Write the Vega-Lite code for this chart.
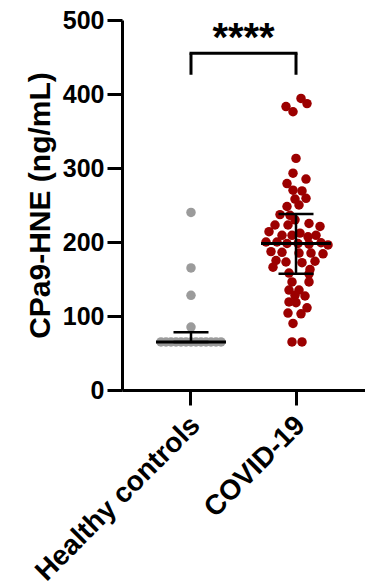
{
  "$schema": "https://vega.github.io/schema/vega-lite/v6.json",
  "width": 243,
  "height": 370,
  "autosize": "none",
  "padding": {"left": 122, "top": 20, "right": 0, "bottom": 196},
  "config": {
    "view": {"stroke": null},
    "font": "Liberation Sans",
    "axis": {
      "domainColor": "black", "domainWidth": 3, "tickColor": "black", "tickWidth": 3, "tickSize": 15,
      "labelColor": "black", "labelFont": "Liberation Sans", "labelFontWeight": "bold", "labelFontSize": 25,
      "titleColor": "black", "titleFont": "Liberation Sans", "titleFontWeight": "bold", "grid": false
    }
  },
  "datasets": {
    "points": [
      {"group": "Healthy controls", "value": 240, "jitter": 0},
      {"group": "Healthy controls", "value": 165, "jitter": 0},
      {"group": "Healthy controls", "value": 128, "jitter": 0},
      {"group": "Healthy controls", "value": 85, "jitter": 0},
      {"group": "Healthy controls", "value": 65, "jitter": -30},
      {"group": "Healthy controls", "value": 65, "jitter": -25},
      {"group": "Healthy controls", "value": 65, "jitter": -20},
      {"group": "Healthy controls", "value": 65, "jitter": -15},
      {"group": "Healthy controls", "value": 65, "jitter": -10},
      {"group": "Healthy controls", "value": 65, "jitter": -5},
      {"group": "Healthy controls", "value": 65, "jitter": 0},
      {"group": "Healthy controls", "value": 65, "jitter": 5},
      {"group": "Healthy controls", "value": 65, "jitter": 10},
      {"group": "Healthy controls", "value": 65, "jitter": 15},
      {"group": "Healthy controls", "value": 65, "jitter": 20},
      {"group": "Healthy controls", "value": 65, "jitter": 25},
      {"group": "Healthy controls", "value": 65, "jitter": 30},
      {"group": "COVID-19", "value": 394, "jitter": 5},
      {"group": "COVID-19", "value": 387, "jitter": 11},
      {"group": "COVID-19", "value": 383, "jitter": -10},
      {"group": "COVID-19", "value": 376, "jitter": -3},
      {"group": "COVID-19", "value": 313, "jitter": 0},
      {"group": "COVID-19", "value": 293, "jitter": -3},
      {"group": "COVID-19", "value": 285, "jitter": 10},
      {"group": "COVID-19", "value": 279, "jitter": -9},
      {"group": "COVID-19", "value": 270, "jitter": -3},
      {"group": "COVID-19", "value": 269, "jitter": 6},
      {"group": "COVID-19", "value": 259, "jitter": 10},
      {"group": "COVID-19", "value": 258, "jitter": -1},
      {"group": "COVID-19", "value": 250, "jitter": 3},
      {"group": "COVID-19", "value": 248, "jitter": -9},
      {"group": "COVID-19", "value": 237, "jitter": -16},
      {"group": "COVID-19", "value": 236, "jitter": -6},
      {"group": "COVID-19", "value": 230, "jitter": -1},
      {"group": "COVID-19", "value": 225, "jitter": 13},
      {"group": "COVID-19", "value": 223, "jitter": -8},
      {"group": "COVID-19", "value": 221, "jitter": 24},
      {"group": "COVID-19", "value": 223, "jitter": -21},
      {"group": "COVID-19", "value": 214, "jitter": -27},
      {"group": "COVID-19", "value": 212, "jitter": 4},
      {"group": "COVID-19", "value": 209, "jitter": -14},
      {"group": "COVID-19", "value": 209, "jitter": 20},
      {"group": "COVID-19", "value": 209, "jitter": -4},
      {"group": "COVID-19", "value": 207, "jitter": 12},
      {"group": "COVID-19", "value": 200, "jitter": -30},
      {"group": "COVID-19", "value": 200, "jitter": -19},
      {"group": "COVID-19", "value": 198, "jitter": -9},
      {"group": "COVID-19", "value": 198, "jitter": 2},
      {"group": "COVID-19", "value": 197, "jitter": 13},
      {"group": "COVID-19", "value": 199, "jitter": 25},
      {"group": "COVID-19", "value": 196, "jitter": 32},
      {"group": "COVID-19", "value": 187, "jitter": -25},
      {"group": "COVID-19", "value": 186, "jitter": -14},
      {"group": "COVID-19", "value": 185, "jitter": 3},
      {"group": "COVID-19", "value": 185, "jitter": 15},
      {"group": "COVID-19", "value": 184, "jitter": 27},
      {"group": "COVID-19", "value": 175, "jitter": -20},
      {"group": "COVID-19", "value": 173, "jitter": -10},
      {"group": "COVID-19", "value": 172, "jitter": 6},
      {"group": "COVID-19", "value": 174, "jitter": 19},
      {"group": "COVID-19", "value": 166, "jitter": -23},
      {"group": "COVID-19", "value": 163, "jitter": 14},
      {"group": "COVID-19", "value": 158, "jitter": -7},
      {"group": "COVID-19", "value": 157, "jitter": 13},
      {"group": "COVID-19", "value": 146, "jitter": -4},
      {"group": "COVID-19", "value": 146, "jitter": 13},
      {"group": "COVID-19", "value": 135, "jitter": -7},
      {"group": "COVID-19", "value": 135, "jitter": 3},
      {"group": "COVID-19", "value": 128, "jitter": -1},
      {"group": "COVID-19", "value": 127, "jitter": 9},
      {"group": "COVID-19", "value": 119, "jitter": -7},
      {"group": "COVID-19", "value": 118, "jitter": 0},
      {"group": "COVID-19", "value": 111, "jitter": 11},
      {"group": "COVID-19", "value": 104, "jitter": -8},
      {"group": "COVID-19", "value": 103, "jitter": 5},
      {"group": "COVID-19", "value": 90, "jitter": -3},
      {"group": "COVID-19", "value": 65, "jitter": -4},
      {"group": "COVID-19", "value": 65, "jitter": 6}
    ],
    "summary": [
      {"group": "Healthy controls", "median": 65, "lo": 65, "hi": 78},
      {"group": "COVID-19", "median": 198, "lo": 157, "hi": 238}
    ],
    "bracket": [
      {"group": "Healthy controls", "group2": "COVID-19", "bottom": 426, "top": 455, "label": "****", "labelY": 474}
    ],
    "legs": [
      {"group": "Healthy controls", "bottom": 426, "top": 455},
      {"group": "COVID-19", "bottom": 426, "top": 455}
    ]
  },
  "encoding": {
    "x": {
      "field": "group", "type": "nominal",
      "scale": {"type": "band", "domain": ["Healthy controls", "COVID-19"], "paddingInner": 0, "paddingOuter": 0.157},
      "axis": {"title": null, "labelAngle": -45, "labelFontSize": 28, "labelPadding": 6, "labelOffset": -5, "labelLimit": 500}
    }
  },
  "layer": [
    {
      "data": {"name": "points"},
      "mark": {"type": "circle", "opacity": 1, "size": 90},
      "encoding": {
        "xOffset": {"field": "jitter", "type": "quantitative", "scale": {"domain": [-52.5, 52.5]}},
        "y": {
          "field": "value", "type": "quantitative",
          "scale": {"domain": [0, 500], "nice": false},
          "axis": {"values": [0, 100, 200, 300, 400, 500], "title": "CPa9-HNE (ng/mL)", "titleFontSize": 30, "titlePadding": 7, "labelPadding": 3}
        },
        "color": {
          "field": "group", "type": "nominal",
          "scale": {"domain": ["Healthy controls", "COVID-19"], "range": ["#9b9b9b", "#9c0000"]},
          "legend": null
        }
      }
    },
    {
      "data": {"name": "summary"},
      "mark": {"type": "rule", "color": "black", "strokeWidth": 2.5},
      "encoding": {"y": {"field": "lo", "type": "quantitative"}, "y2": {"field": "hi"}}
    },
    {
      "data": {"name": "summary"},
      "mark": {"type": "tick", "color": "black", "size": 70, "thickness": 3, "opacity": 1},
      "encoding": {"y": {"field": "median", "type": "quantitative"}}
    },
    {
      "data": {"name": "summary"},
      "mark": {"type": "tick", "color": "black", "size": 35, "thickness": 2.5, "opacity": 1},
      "encoding": {"y": {"field": "hi", "type": "quantitative"}}
    },
    {
      "data": {"name": "summary"},
      "mark": {"type": "tick", "color": "black", "size": 35, "thickness": 2.5, "opacity": 1},
      "encoding": {"y": {"field": "lo", "type": "quantitative"}}
    },
    {
      "data": {"name": "bracket"},
      "mark": {"type": "rule", "color": "black", "strokeWidth": 3, "strokeCap": "square"},
      "encoding": {
        "x": {"field": "group", "type": "nominal", "bandPosition": 0.5},
        "x2": {"field": "group2", "bandPosition": 0.5},
        "y": {"field": "top", "type": "quantitative"}
      }
    },
    {
      "data": {"name": "legs"},
      "mark": {"type": "rule", "color": "black", "strokeWidth": 3},
      "encoding": {"y": {"field": "bottom", "type": "quantitative"}, "y2": {"field": "top"}}
    },
    {
      "data": {"name": "bracket"},
      "mark": {"type": "text", "color": "black", "fontSize": 40, "fontWeight": "bold", "baseline": "middle", "align": "center", "font": "Liberation Sans"},
      "encoding": {
        "x": {"field": "group2", "type": "nominal", "bandPosition": 0},
        "y": {"field": "labelY", "type": "quantitative"},
        "text": {"field": "label"}
      }
    }
  ]
}
